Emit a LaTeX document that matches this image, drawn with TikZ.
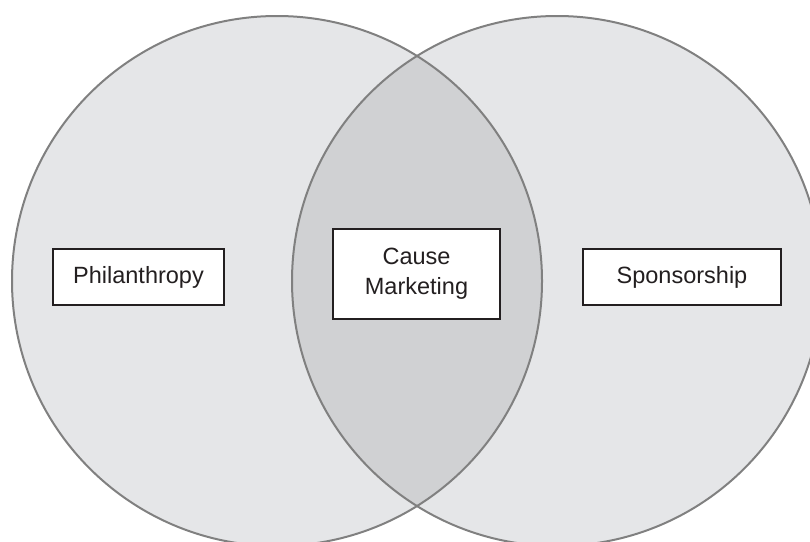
\documentclass[tikz,border=0pt]{standalone}
\usepackage{fontspec}
\setmainfont{Liberation Sans}
\definecolor{ringfill}{HTML}{E5E6E8}
\definecolor{lensfill}{HTML}{D0D1D3}
\definecolor{ringline}{HTML}{808080}
\definecolor{ink}{HTML}{231F20}
\tikzset{
  labelbox/.style={draw=ink, line width=2pt, fill=white, text=ink, inner sep=0pt,
    font=\fontsize{23.5}{30}\selectfont, align=center}
}
\begin{document}
\begin{tikzpicture}[x=1pt,y=-1pt]
\useasboundingbox (0,0) rectangle (810,541);
\clip (0,0) rectangle (810,541);
\coordinate (cl) at (277,281);
\coordinate (cr) at (557,281);
\fill[ringfill] (cl) circle[radius=265];
\fill[ringfill] (cr) circle[radius=265];
\begin{scope}
  \clip (cl) circle[radius=265];
  \fill[lensfill] (cr) circle[radius=265];
\end{scope}
\draw[ringline, line width=2pt] (cl) circle[radius=265];
\draw[ringline, line width=2pt] (cr) circle[radius=265];
\node[labelbox, minimum width=171, minimum height=56] (phil) at (138.5,277) {Philanthropy};
\node[labelbox, minimum width=167, minimum height=90] (cause) at (416.5,274) {Cause\\Marketing};
\node[labelbox, minimum width=198, minimum height=56] (spons) at (682,277) {Sponsorship};
\end{tikzpicture}
\end{document}
